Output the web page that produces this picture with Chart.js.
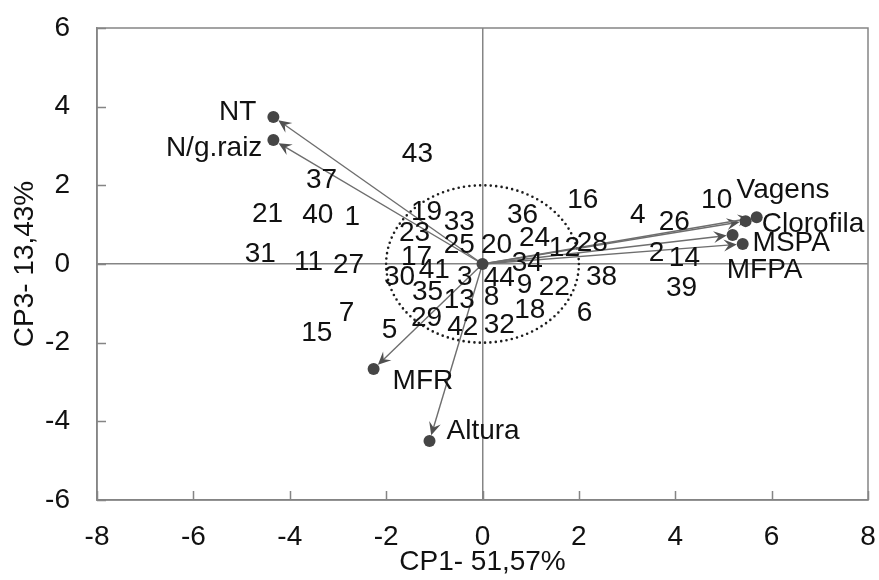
<!DOCTYPE html>
<html>
<head>
<meta charset="utf-8">
<script src="https://cdn.jsdelivr.net/npm/chart.js@4.4.0/dist/chart.umd.min.js"></script>
<style>
  html, body { margin: 0; padding: 0; background: #fff; }
  #wrap { width: 879px; height: 580px; }
</style>
</head>
<body>
<div id="wrap"><canvas id="biplot"></canvas></div>
<script>
// genotype scores (labels only, no markers)
const genotypes = ['1','2','3','4','5','6','7','8','9','10','11','12','13','14','15','16','17','18','19','20','21','22',
                   '23','24','25','26','27','28','29','30','31','32','33','34','35','36','37','38','39','40','41','42','43','44'];
const genoCP1 = [-2.70, 3.61, -0.37, 3.22, -1.93, 2.12, -2.82, 0.19, 0.87, 4.86, -3.61, 1.70, -0.48, 4.19, -3.44, 2.08,
                 -1.37, 0.98, -1.16, 0.29, -4.46, 1.49, -1.41, 1.08, -0.48, 3.98, -2.78, 2.28, -1.16, -1.72, -4.61, 0.35,
                 -0.48, 0.93, -1.14, 0.83, -3.34, 2.47, 4.13, -3.42, -1.00, -0.41, -1.35, 0.35];
const genoCP3 = [1.20, 0.28, -0.33, 1.25, -1.68, -1.25, -1.25, -0.84, -0.53, 1.63, 0.05, 0.41, -0.92, 0.15, -1.75, 1.63,
                 0.18, -1.17, 1.32, 0.48, 1.27, -0.58, 0.79, 0.66, 0.48, 1.07, -0.03, 0.53, -1.37, -0.33, 0.25, -1.55,
                 1.07, 0.03, -0.71, 1.25, 2.14, -0.33, -0.61, 1.25, -0.15, -1.60, 2.80, -0.36];

// variable vectors
const varNames = ['NT', 'N/g.raiz', 'Vagens', 'Clorofila', 'MSPA', 'MFPA', 'MFR', 'Altura'];
const varCP1 = [-4.34, -4.34, 5.46, 5.69, 5.19, 5.40, -2.26, -1.10];
const varCP3 = [3.74, 3.15, 1.09, 1.19, 0.74, 0.51, -2.67, -4.50];

const circleRadius = 2;   // dotted reference circle, data units

// label placement relative to the vector tip (pixels)
const varLabelPos = {
  'NT':        { align: 'right', dx: -17, dy: -5 },
  'N/g.raiz':  { align: 'right', dx: -11, dy: 8 },
  'Vagens':    { align: 'left',  dx: -9,  dy: -31 },
  'Clorofila': { align: 'left',  dx: 5,   dy: 7 },
  'MSPA':      { align: 'left',  dx: 20,  dy: 8 },
  'MFPA':      { align: 'left',  dx: -16, dy: 26 },
  'MFR':       { align: 'left',  dx: 19,  dy: 12 },
  'Altura':    { align: 'left',  dx: 17,  dy: -10 }
};

const FONT = '"Liberation Sans", Arial, sans-serif';
const AXIS_COLOR = '#858585';
const DOT_COLOR = '#454545';

function drawArrow(ctx, x0, y0, x1, y1) {
  const ang = Math.atan2(y1 - y0, x1 - x0);
  const tipBack = 6;
  const tx = x1 - Math.cos(ang) * tipBack;
  const ty = y1 - Math.sin(ang) * tipBack;
  ctx.strokeStyle = '#6e6e6e';
  ctx.lineWidth = 1.4;
  ctx.setLineDash([]);
  ctx.beginPath();
  ctx.moveTo(x0, y0);
  ctx.lineTo(tx - Math.cos(ang) * 6, ty - Math.sin(ang) * 6);
  ctx.stroke();
  // stealth style head
  const len = 13, half = 6, notch = 8;
  ctx.save();
  ctx.translate(tx, ty);
  ctx.rotate(ang);
  ctx.fillStyle = '#505050';
  ctx.beginPath();
  ctx.moveTo(0, 0);
  ctx.lineTo(-len, -half);
  ctx.lineTo(-notch, 0);
  ctx.lineTo(-len, half);
  ctx.closePath();
  ctx.fill();
  ctx.restore();
}

const biplotPlugin = {
  id: 'biplot',
  beforeDatasetsDraw(chart) {
    const { ctx, chartArea: a, scales: { x, y } } = chart;
    ctx.save();
    // plot frame
    ctx.strokeStyle = AXIS_COLOR;
    ctx.lineWidth = 1.5;
    ctx.strokeRect(a.left, a.top, a.right - a.left, a.bottom - a.top);
    // inward tick marks
    ctx.beginPath();
    x.ticks.forEach(t => {
      const px = Math.round(x.getPixelForValue(t.value)) + 0.5;
      ctx.moveTo(px, a.bottom);
      ctx.lineTo(px, a.bottom - 9);
    });
    y.ticks.forEach(t => {
      const py = Math.round(y.getPixelForValue(t.value)) + 0.5;
      ctx.moveTo(a.left, py);
      ctx.lineTo(a.left + 9, py);
    });
    ctx.stroke();

    // dotted circle
    const cx = x.getPixelForValue(0), cy = y.getPixelForValue(0);
    const rx = x.getPixelForValue(circleRadius) - cx;
    const ry = cy - y.getPixelForValue(circleRadius);
    ctx.strokeStyle = '#1e1e1e';
    ctx.lineWidth = 2.6;
    ctx.lineCap = 'round';
    ctx.setLineDash([0, 5.4]);
    ctx.beginPath();
    ctx.ellipse(cx, cy, rx, ry, 0, 0, Math.PI * 2);
    ctx.stroke();
    ctx.lineCap = 'butt';

    // vectors
    chart.getDatasetMeta(1).data.forEach(pt => drawArrow(ctx, cx, cy, pt.x, pt.y));
    ctx.restore();
  },
  afterDatasetsDraw(chart) {
    const { ctx } = chart;
    ctx.save();
    ctx.font = '28px ' + FONT;
    ctx.fillStyle = '#111';
    ctx.textBaseline = 'middle';
    ctx.textAlign = 'center';
    chart.getDatasetMeta(0).data.forEach((pt, i) => ctx.fillText(genotypes[i], pt.x, pt.y));
    chart.getDatasetMeta(1).data.forEach((pt, i) => {
      const o = varLabelPos[varNames[i]];
      ctx.textAlign = o.align;
      ctx.fillText(varNames[i], pt.x + o.dx, pt.y + o.dy);
    });
    ctx.restore();
  }
};

Chart.defaults.font.family = FONT;
Chart.defaults.font.size = 28;
Chart.defaults.color = '#111';

new Chart(document.getElementById('biplot'), {
  type: 'scatter',
  data: {
    datasets: [
      {
        label: 'Genótipos',
        data: genotypes.map((g, i) => ({ x: genoCP1[i], y: genoCP3[i] })),
        pointRadius: 0
      },
      {
        label: 'Variáveis',
        data: varNames.map((v, i) => ({ x: varCP1[i], y: varCP3[i] })),
        pointRadius: 6,
        pointBackgroundColor: DOT_COLOR,
        pointBorderWidth: 0
      },
      {
        label: 'Origem',
        data: [{ x: 0, y: 0 }],
        pointRadius: 6,
        pointBackgroundColor: DOT_COLOR,
        pointBorderWidth: 0
      }
    ]
  },
  options: {
    responsive: true,
    maintainAspectRatio: false,
    animation: false,
    layout: { padding: { top: 28, right: 11, left: 0, bottom: 0 } },
    plugins: { legend: { display: false }, tooltip: { enabled: false } },
    scales: {
      x: {
        min: -8, max: 8,
        ticks: { stepSize: 2, padding: 20, color: '#111' },
        grid: {
          drawTicks: false,
          lineWidth: 1.5,
          color: c => (c.tick && c.tick.value === 0 ? AXIS_COLOR : 'rgba(0,0,0,0)')
        },
        border: { display: true, color: AXIS_COLOR, width: 1.5 },
        title: { display: true, text: 'CP1- 51,57%', color: '#111', padding: { top: 0, bottom: 1 } },
        afterFit: s => { s.height = 80; s.paddingLeft = 0; s.paddingRight = 0; }
      },
      y: {
        min: -6, max: 6,
        ticks: { stepSize: 2, padding: 27, color: '#111' },
        grid: {
          drawTicks: false,
          lineWidth: 1.5,
          color: c => (c.tick && c.tick.value === 0 ? AXIS_COLOR : 'rgba(0,0,0,0)')
        },
        border: { display: true, color: AXIS_COLOR, width: 1.5 },
        title: { display: true, text: 'CP3- 13,43%', color: '#111', padding: { top: 8, bottom: 0 } },
        afterFit: s => { s.width = 97; s.paddingTop = 0; s.paddingBottom = 0; }
      }
    }
  },
  plugins: [biplotPlugin]
});
</script>
</body>
</html>
